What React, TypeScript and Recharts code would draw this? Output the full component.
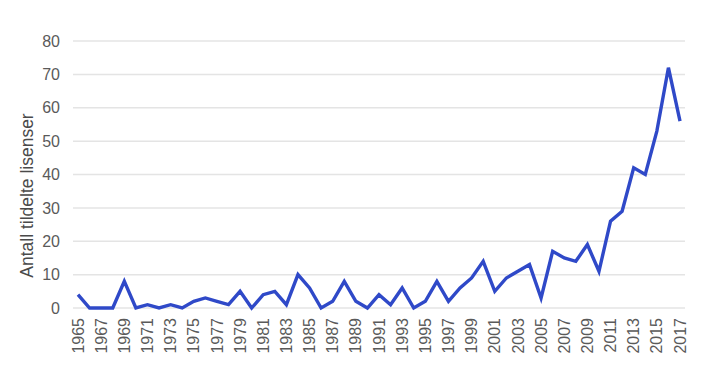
import { LineChart, Line, XAxis, YAxis, CartesianGrid } from "recharts";

const years = [
  1965, 1966, 1967, 1968, 1969, 1970, 1971, 1972, 1973, 1974, 1975, 1976, 1977, 1978,
  1979, 1980, 1981, 1982, 1983, 1984, 1985, 1986, 1987, 1988, 1989, 1990, 1991, 1992,
  1993, 1994, 1995, 1996, 1997, 1998, 1999, 2000, 2001, 2002, 2003, 2004, 2005, 2006,
  2007, 2008, 2009, 2010, 2011, 2012, 2013, 2014, 2015, 2016, 2017,
];

const licences = [
  4, 0, 0, 0, 8, 0, 1, 0, 1, 0, 2, 3, 2, 1,
  5, 0, 4, 5, 1, 10, 6, 0, 2, 8, 2, 0, 4, 1,
  6, 0, 2, 8, 2, 6, 9, 14, 5, 9, 11, 13, 3, 17,
  15, 14, 19, 11, 26, 29, 42, 40, 53, 72, 56,
];

const yTicks = [0, 10, 20, 30, 40, 50, 60, 70, 80];

const data = years.map((year, i) => ({ year: String(year), value: licences[i] }));

const FONT = "'Liberation Sans', Arial, Helvetica, sans-serif";

function YearTick(props: any) {
  const { x, y, payload } = props;
  return (
    <g transform={`translate(${x},${y})`}>
      <text
        transform="rotate(-90)"
        x={-10}
        y={0}
        dy="0.35em"
        textAnchor="end"
        fill="#5a5a5a"
        fontSize={16}
        fontFamily={FONT}
      >
        {payload.value}
      </text>
    </g>
  );
}

function AxisTitle(props: any) {
  const { viewBox } = props;
  const cx = viewBox.x + 27;
  const cy = viewBox.y + viewBox.height / 2 + 21;
  return (
    <text
      x={cx}
      y={cy}
      transform={`rotate(-90, ${cx}, ${cy})`}
      textAnchor="middle"
      dominantBaseline="central"
      fill="#4a4a4a"
      fontSize={17.5}
      fontFamily={FONT}
    >
      Antall tildelte lisenser
    </text>
  );
}

export default function App() {
  return (
    <div style={{ position: "absolute", left: 0, top: 0, width: 708, height: 385, background: "#fff" }}>
      <LineChart
        width={708}
        height={385}
        data={data}
        margin={{ top: 41, right: 23, bottom: 17, left: 0 }}
      >
        <CartesianGrid vertical={false} stroke="#e4e4e4" strokeWidth={1.5} />
        <XAxis
          dataKey="year"
          interval={1}
          axisLine={false}
          tickLine={false}
          tickSize={0}
          tickMargin={0}
          height={60}
          padding={{ left: 5, right: 5 }}
          tick={<YearTick />}
        />
        <YAxis
          width={73}
          domain={[0, 80]}
          ticks={yTicks}
          axisLine={false}
          tickLine={false}
          tickSize={0}
          tickMargin={13}
          tick={{ fill: "#5a5a5a", fontSize: 16, fontFamily: FONT }}
          label={<AxisTitle />}
        />
        <Line
          type="linear"
          dataKey="value"
          stroke="#2f49c8"
          strokeWidth={3.4}
          dot={false}
          isAnimationActive={false}
        />
      </LineChart>
    </div>
  );
}
